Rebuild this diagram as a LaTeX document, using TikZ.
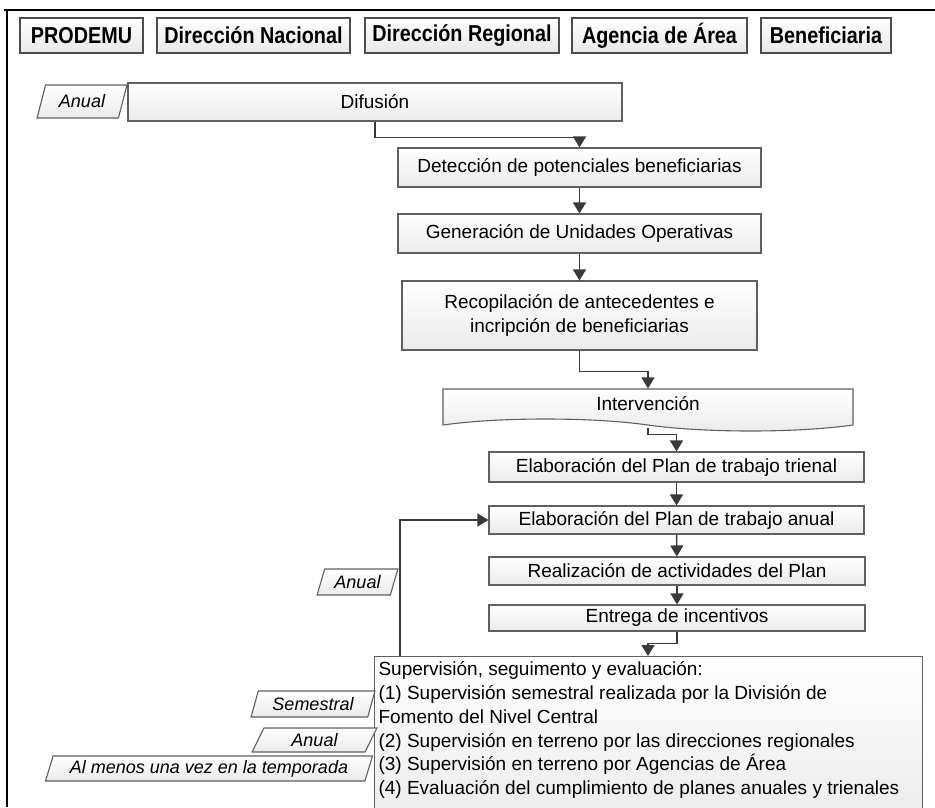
\documentclass[tikz,border=0pt]{standalone}
\usepackage{fontspec}
\setmainfont{Liberation Sans}
\newfontfamily\headfont[FakeStretch=0.86]{Liberation Sans}
\usetikzlibrary{arrows.meta,shapes.geometric,shapes.symbols}

\tikzset{
  stepbox/.style={draw=gray!75!black, line width=1.1pt, top color=white, bottom color=gray!16,
    inner sep=0pt, align=center, font=\fontsize{19}{24}\selectfont},
  headbox/.style={draw=gray!60!black, line width=1.3pt, top color=white, bottom color=gray!18,
    inner sep=0pt, minimum height=35pt, font=\headfont\bfseries\fontsize{23}{27}\selectfont},
  freqbox/.style={trapezium, trapezium left angle=68, trapezium right angle=112, trapezium stretches=true,
    draw=gray!75!black, line width=1.1pt, top color=white, bottom color=gray!16,
    inner sep=0pt, font=\itshape\fontsize{18}{22}\selectfont},
  arr/.style={draw=gray!45!black, line width=1.4pt, -{Triangle[width=13pt,length=11pt]}}
}

\begin{document}
\begin{tikzpicture}[x=1pt,y=-1pt]
\useasboundingbox (0,0) rectangle (935,807);

% marco
\draw[line width=2.6pt] (4,10) -- (935,10);
\draw[line width=2.6pt] (7,10) -- (7,807);

% encabezado
\node[headbox, minimum width=123pt] (prodemu) at (81.5,35.5) {PRODEMU};
\node[headbox, minimum width=193pt] (nacional) at (253.5,35.5) {Dirección Nacional};
\node[headbox, minimum width=194pt] (regional) at (462,35.5) {Dirección Regional};
\node[headbox, minimum width=175pt] (agencia) at (659.5,35.5) {Agencia de Área};
\node[headbox, minimum width=130pt] (beneficiaria) at (826,35.5) {Beneficiaria};

% etapas
\node[freqbox, minimum width=90pt, minimum height=33pt] (anual1) at (82,101.5) {Anual};
\node[stepbox, minimum width=494pt, minimum height=38pt] (difusion) at (375,102) {Difusión};
\node[stepbox, minimum width=363pt, minimum height=39pt] (deteccion) at (579.5,167.5) {Detección de potenciales beneficiarias};
\node[stepbox, minimum width=363pt, minimum height=39pt] (generacion) at (579.5,233.5) {Generación de Unidades Operativas};
\node[stepbox, minimum width=355pt, minimum height=69pt] (recopilacion) at (579.5,315.5) {Recopilación de antecedentes e\\incripción de beneficiarias};
\node[stepbox, tape, tape bend top=none, tape bend bottom=out and in, tape bend height=12pt,
  minimum width=410pt, minimum height=42pt] (intervencion) at (648,404) {Intervención};
\node[stepbox, minimum width=375pt, minimum height=30pt] (trienal) at (676.5,467) {Elaboración del Plan de trabajo trienal};
\node[stepbox, minimum width=375pt, minimum height=28pt] (planAnual) at (676.5,520) {Elaboración del Plan de trabajo anual};
\node[stepbox, minimum width=376pt, minimum height=28pt] (realizacion) at (677,571) {Realización de actividades del Plan};
\node[stepbox, minimum width=376pt, minimum height=26pt] (entrega) at (677,618) {Entrega de incentivos};
\node[stepbox, anchor=north west, align=left, inner xsep=3pt, inner ysep=2.5pt, minimum width=548pt] (supervision) at (374,656)
  {\parbox[t][165pt][t]{540pt}{\raggedright\fontsize{19}{23.8}\selectfont\strut Supervisión, seguimento y evaluación:\\
  (1) Supervisión semestral realizada por la División de\\
  Fomento del Nivel Central\\
  (2) Supervisión en terreno por las direcciones regionales\\
  (3) Supervisión en terreno por Agencias de Área\\
  (4) Evaluación del cumplimiento de planes anuales y trienales}};

% frecuencias
\node[freqbox, minimum width=81pt, minimum height=26pt] (anual2) at (357.5,582) {Anual};
\node[freqbox, minimum width=124pt, minimum height=26pt] (semestral) at (313,704) {Semestral};
\node[freqbox, minimum width=125pt, minimum height=24pt] (anual3) at (314.5,740) {Anual};
\node[freqbox, minimum width=328pt, minimum height=25pt] (almenos) at (209,768.5) {Al menos una vez en la temporada};

% conectores
\draw[arr] (difusion.south) -- ++(0,16) -| (deteccion.north);
\draw[arr] (deteccion) -- (generacion);
\draw[arr] (generacion) -- (recopilacion);
\draw[arr] (recopilacion.south) -- ++(0,21) -| (intervencion.north);
\draw[arr] ([yshift=-8pt]intervencion.south) -- ++(0,7) -| (trienal.north);
\draw[arr] (trienal) -- (planAnual);
\draw[arr] (planAnual) -- (realizacion);
\draw[arr] (realizacion) -- (entrega);
\draw[arr] (entrega.south) -- ++(0,12) -| ([xshift=274pt]supervision.north west);
\draw[arr] ([xshift=26pt]supervision.north west) |- (planAnual.west);
\end{tikzpicture}
\end{document}
